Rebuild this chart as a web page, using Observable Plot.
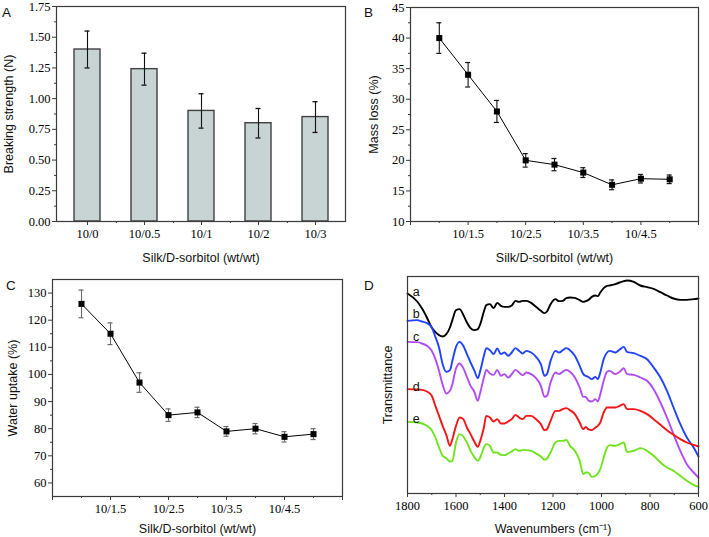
<!DOCTYPE html>
<html><head><meta charset="utf-8">
<script src="https://cdn.jsdelivr.net/npm/d3@7"></script>
<script src="https://cdn.jsdelivr.net/npm/@observablehq/plot@0.6"></script>
<style>
body{margin:0;background:#fff;}
#wrap{position:relative;width:709px;height:537px;overflow:hidden;background:#fff;font-family:"Liberation Sans",Arial,sans-serif;}
.panel{position:absolute;}
.tag{position:absolute;font-size:13.5px;color:#111;line-height:1;z-index:2;}
</style></head><body>
<div id="wrap">
  <div class="panel" id="pA" style="left:0;top:0"></div>
  <div class="panel" id="pB" style="left:355px;top:0"></div>
  <div class="panel" id="pC" style="left:0;top:270px"></div>
  <div class="panel" id="pD" style="left:355px;top:270px"></div>
  <div class="tag" style="left:2px;top:6px">A</div>
  <div class="tag" style="left:364px;top:6px">B</div>
  <div class="tag" style="left:6px;top:279px">C</div>
  <div class="tag" style="left:364px;top:279px">D</div>
</div>
<script>
// ---------- Panel A data ----------
const ratiosA = ["10/0", "10/0.5", "10/1", "10/2", "10/3"];
const strength = [1.40, 1.24, 0.90, 0.80, 0.85];
const strengthErr = [0.15, 0.13, 0.14, 0.12, 0.125];
const yTicksA = [0, 0.25, 0.5, 0.75, 1.0, 1.25, 1.5, 1.75];
const yMinorA = [0.125, 0.375, 0.625, 0.875, 1.125, 1.375, 1.625];

// ---------- Panels B & C data ----------
const sorbitol = [1, 1.5, 2, 2.5, 3, 3.5, 4, 4.5, 5];
const massLoss = [40, 34, 28, 20, 19.3, 18, 16, 17, 16.9];
const massLossErr = [2.5, 2, 1.8, 1.1, 1, 0.8, 0.8, 0.7, 0.7];
const waterUptake = [126, 115, 97, 85, 86, 79, 80, 77, 78];
const waterUptakeErr = [5.1, 4, 3.6, 2.3, 1.9, 1.8, 1.9, 1.9, 2];
const xTicksBC = [0.5, 1.5, 2.5, 3.5, 4.5, 5.5];
const xMinorBC = [1, 2, 3, 4, 5];
const yTicksB = [10, 15, 20, 25, 30, 35, 40, 45];
const yMinorB = [12.5, 17.5, 22.5, 27.5, 32.5, 37.5, 42.5];
const yTicksC = [60, 70, 80, 90, 100, 110, 120, 130];
const yMinorC = [65, 75, 85, 95, 105, 115, 125];

// ---------- Panel D data (FTIR, arbitrary transmittance units) ----------
const wavenumber = [1800,1760,1740,1720,1700,1685,1670,1655,1640,1625,1615,1600,1585,1570,1555,1540,1525,1510,1500,1485,1475,1460,1445,1430,1415,1400,1385,1370,1355,1340,1325,1310,1290,1270,1250,1235,1225,1210,1190,1175,1160,1145,1130,1110,1090,1075,1065,1055,1040,1025,1015,1005,991,977,966,943,925,908,895,867,840,812,785,757,730,703,675,648,620,600];
const specA = [632,608,587,560,530,516,507,503,510,530,552,582,585,568,545,528,522,525,540,578,597,600,588,604,595,592,592,596,610,607,610,610,604,592,580,573,578,600,615,609,610,618,620,619,612,607,609,612,622,626,624,635,648,655,656,660,665,669,671,667,656,651,646,636,626,617,613,613,615,617];
const specB = [550,552,548,543,530,502,470,420,397,402,430,472,487,475,450,425,402,378,400,445,468,462,450,467,450,455,445,455,468,460,452,460,455,442,420,385,390,430,460,455,462,468,462,445,415,390,385,382,375,382,375,395,435,455,460,455,464,472,457,453,445,435,410,380,340,290,240,200,170,143];
const specC = [487,486,482,475,460,435,400,358,332,340,360,407,422,408,382,355,338,310,335,380,403,392,388,403,385,390,380,390,403,395,387,395,390,378,355,322,325,365,395,390,397,403,397,380,350,322,322,312,308,315,308,330,370,397,400,390,397,408,390,388,380,370,345,305,260,210,160,120,95,80];
const specD = [345,344,343,338,325,295,265,235,208,175,195,235,260,255,230,210,188,172,190,230,265,260,248,255,242,242,248,255,268,260,255,265,265,255,240,222,225,250,280,280,285,288,282,270,245,225,232,225,222,230,235,245,275,290,290,290,295,300,285,285,280,270,255,238,222,208,195,185,178,173];
const specE = [247,245,242,235,222,200,170,145,138,128,130,185,210,203,185,160,142,130,140,170,180,175,155,155,148,147,152,158,165,160,162,162,160,152,143,133,137,155,185,190,190,193,175,160,130,90,95,95,82,85,92,105,140,170,177,175,180,185,157,160,168,160,145,125,110,100,85,70,58,52];
const curveKeys = ["a", "b", "c", "d", "e"];
const curveColors = ["#000000", "#2143ff", "#b04cf0", "#f41414", "#6fe41c"];
const curveLabelY = [638, 570, 503, 353, 257];
const labelWavenumber = 1764;
const xTicksD = [1800, 1600, 1400, 1200, 1000, 800, 600];
const xMinorD = [1700, 1500, 1300, 1100, 900, 700];

// ---------- shared styles ----------
const serif = "Liberation Serif, DejaVu Serif, serif";
const sans = "Liberation Sans, Arial, sans-serif";
const ink = "#3a3a3a";
const baseStyle = {background: "transparent", fontSize: "12.5px", color: "#000", overflow: "visible"};
const tickFont = {fontFamily: serif, fontSize: 12.5, label: null, stroke: ink};

function yTitle(text, dx) {
  return Plot.text([text], {frameAnchor: "left", rotate: -90, dx, textAnchor: "middle", lineAnchor: "middle", fontFamily: sans, fontSize: 12.5, fill: "#111"});
}
function xTitle(text, dy) {
  return Plot.text([text], {frameAnchor: "bottom", dy, textAnchor: "middle", lineAnchor: "middle", fontFamily: sans, fontSize: 12.5, fill: "#111"});
}
// force serif on axis tick labels (everything that is not a plain text mark)
function serifTicks(svg) {
  svg.querySelectorAll("text").forEach(t => {
    const g = t.closest("g[aria-label]");
    const lab = g ? g.getAttribute("aria-label") : "";
    if (lab !== "text") {
      t.setAttribute("font-family", serif);
      t.style.fontFamily = serif;
    }
  });
  return svg;
}

// ---------- Panel A ----------
const dataA = ratiosA.map((r, i) => ({r, v: strength[i], lo: strength[i] - strengthErr[i], hi: strength[i] + strengthErr[i]}));
const plotA = Plot.plot({
  width: 355, height: 270, marginLeft: 56, marginRight: 10, marginTop: 6, marginBottom: 49,
  style: baseStyle,
  x: {type: "band", domain: ratiosA, paddingInner: 0.55, paddingOuter: 0.275},
  y: {domain: [0, 1.75]},
  marks: [
    Plot.barY(dataA, {x: "r", y: "v", fill: "#c8d4d4", stroke: "#404040", strokeWidth: 1.4}),
    Plot.ruleX(dataA, {x: "r", y1: "lo", y2: "hi", stroke: "#111", strokeWidth: 1.1}),
    Plot.tickY(dataA, {x: "r", y: "lo", stroke: "#111", strokeWidth: 1.3, insetLeft: 10.5, insetRight: 10.5}),
    Plot.tickY(dataA, {x: "r", y: "hi", stroke: "#111", strokeWidth: 1.3, insetLeft: 10.5, insetRight: 10.5}),
    Plot.frame({stroke: ink, strokeWidth: 1.2}),
    Plot.axisY({...tickFont, ticks: yTicksA, tickSize: 4, tickPadding: 2, tickFormat: d3.format(".2f")}),
    Plot.axisY({...tickFont, ticks: yMinorA, tickSize: 2, tickFormat: () => ""}),
    Plot.axisX({...tickFont, ticks: ratiosA, tickSize: 4, tickPadding: 4}),
    Plot.axisX({...tickFont, ticks: ratiosA.slice(0, 4), tickSize: 2, tickFormat: () => "", dx: 28.9}),
    yTitle("Breaking strength (N)", -48),
    xTitle("Silk/D-sorbitol (wt/wt)", 36)
  ]
});
document.getElementById("pA").append(serifTicks(plotA));

// ---------- Panels B & C ----------
function linePanel({values, errs, yDomain, yTicks, yMinor, errColor, yLabel, yLabelDx, xLabelDy, height, margins}) {
  const data = sorbitol.map((x, i) => ({x, y: values[i], lo: values[i] - errs[i], hi: values[i] + errs[i]}));
  return serifTicks(Plot.plot({
    width: 354, height, ...margins,
    style: baseStyle,
    x: {domain: [0.5, 5.5]},
    y: {domain: yDomain},
    marks: [
      Plot.ruleX(data, {x: "x", y1: "lo", y2: "hi", stroke: errColor, strokeWidth: 1.1}),
      Plot.ruleY(data, {x1: "x", x2: "x", y: "lo", stroke: errColor, strokeWidth: 1.2, insetLeft: -2.5, insetRight: -2.5}),
      Plot.ruleY(data, {x1: "x", x2: "x", y: "hi", stroke: errColor, strokeWidth: 1.2, insetLeft: -2.5, insetRight: -2.5}),
      Plot.line(data, {x: "x", y: "y", stroke: "#000", strokeWidth: 1}),
      Plot.dot(data, {x: "x", y: "y", symbol: "square", r: 3.4, fill: "#000", stroke: "none"}),
      Plot.frame({stroke: ink, strokeWidth: 1.2}),
      Plot.axisY({...tickFont, ticks: yTicks, tickSize: 4, tickPadding: 2}),
      Plot.axisY({...tickFont, ticks: yMinor, tickSize: 2, tickFormat: () => ""}),
      Plot.axisX({...tickFont, ticks: xTicksBC, tickSize: 4, tickPadding: 4, tickFormat: d => (d > 1 && d < 5) ? "10/" + d : ""}),
      Plot.axisX({...tickFont, ticks: xMinorBC, tickSize: 2, tickFormat: () => ""}),
      yTitle(yLabel, yLabelDx),
      xTitle("Silk/D-sorbitol (wt/wt)", xLabelDy)
    ]
  }));
}
document.getElementById("pB").append(linePanel({
  values: massLoss, errs: massLossErr, yDomain: [10, 45], yTicks: yTicksB, yMinor: yMinorB,
  errColor: "#111", yLabel: "Mass loss (%)", yLabelDx: -37, xLabelDy: 36, height: 270,
  margins: {marginLeft: 55, marginRight: 11, marginTop: 7, marginBottom: 49}
}));
document.getElementById("pC").append(linePanel({
  values: waterUptake, errs: waterUptakeErr, yDomain: [55, 135], yTicks: yTicksC, yMinor: yMinorC,
  errColor: "#6a6a6a", yLabel: "Water uptake (%)", yLabelDx: -40, xLabelDy: 32, height: 267,
  margins: {marginLeft: 52, marginRight: 12, marginTop: 9, marginBottom: 41}
}));

// ---------- Panel D ----------
const specs = [specA, specB, specC, specD, specE];
const curves = curveKeys.map((key, k) => wavenumber.map((w, i) => ({key, w, t: specs[k][i]})));
const labels = curveKeys.map((key, k) => ({key, w: labelWavenumber, t: curveLabelY[k]}));
const plotD = Plot.plot({
  width: 354, height: 267, marginLeft: 52, marginRight: 11, marginTop: 6, marginBottom: 44,
  style: baseStyle,
  x: {domain: [1800, 600]},
  y: {domain: [32, 683], axis: null},
  marks: [
    ...curves.map((c, k) => Plot.line(c, {x: "w", y: "t", stroke: curveColors[k], strokeWidth: 1.9, curve: "monotone-x"})),
    Plot.text(labels, {x: "w", y: "t", text: "key", fontFamily: sans, fontSize: 12.5, fill: "#111"}),
    Plot.frame({stroke: ink, strokeWidth: 1.2}),
    Plot.axisX({...tickFont, ticks: xTicksD, tickSize: 4, tickPadding: 4, tickFormat: d3.format("d")}),
    Plot.axisX({...tickFont, ticks: xMinorD, tickSize: 2, tickFormat: () => ""}),
    yTitle("Transmittance", -20),
    xTitle("Wavenumbers (cm⁻¹)", 35)
  ]
});
document.getElementById("pD").append(serifTicks(plotD));
</script>
</body></html>
